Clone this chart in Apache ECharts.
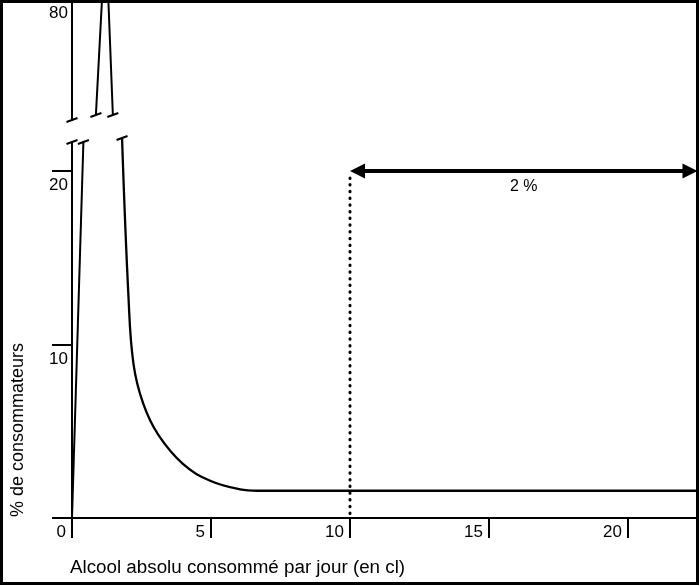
<!DOCTYPE html>
<html><head><meta charset="utf-8">
<script src="https://cdn.jsdelivr.net/npm/echarts@6/dist/echarts.min.js"></script>
<style>html,body{margin:0;padding:0;background:#fff}#c{width:700px;height:586px}</style>
</head><body><div id="c"></div>
<script>
// ---- data ----
const xTicks = [0, 5, 10, 15, 20];
const yTicksLow = [0, 10, 20];
const yLabelsLow = [10, 20];
const yTicksHigh = [80];
const xMax = 22.5;
const yLowMax = 21.67;
const yHighMin = 73.08, yHighMax = 80;
const riseLow = [[0, 0], [0.41, 21.67]];
const peakHigh = [[0.86, 73.37], [1.21, 84.0], [1.47, 73.37]];
const fallLow = [[1.80, 21.9], [2.03, 12.8], [2.21, 8.9], [2.56, 6.6], [3.10, 4.8], [4.00, 3.1],
  [4.97, 2.15], [6.05, 1.65], [6.67, 1.57], [22.5, 1.57]];
const threshold = [[10, 19.6], [10, 0]];
const arrowSpan = [[10, 22.5, 20]];
const arrowLabel = '2 %';
const breaksLow = [[0, 21.67], [0.41, 21.67], [1.80, 21.9]];
const breaksHigh = [[0, 73.08], [0.86, 73.37], [1.47, 73.37]];
const xTitle = 'Alcool absolu consommé par jour (en cl)';
const yTitle = '% de consommateurs';

const FONT = '"Liberation Sans", Arial, sans-serif';
const lineBlack = { color: '#000', width: 2 };

function breakMark(params, api) {
  const p = api.coord([api.value(0), api.value(1)]);
  return { type: 'line', shape: { x1: p[0] - 5.5, y1: p[1] + 2, x2: p[0] + 5.5, y2: p[1] - 2 },
    style: { stroke: '#000', lineWidth: 2 } };
}

const chart = echarts.init(document.getElementById('c'), null, { renderer: 'canvas' });
chart.setOption({
  backgroundColor: '#fff',
  animation: false,
  grid: [
    { left: 72, right: 2.5, top: 142, bottom: 68 },
    { left: 72, right: 2.5, top: 0, height: 120 }
  ],
  xAxis: [
    { type: 'value', gridIndex: 0, min: 0, max: xMax, splitLine: { show: false },
      axisLine: { lineStyle: lineBlack },
      axisTick: { customValues: xTicks, length: 20, lineStyle: lineBlack },
      axisLabel: { customValues: xTicks, align: 'right', padding: [0, 6, 0, 0], margin: 6,
        color: '#000', fontSize: 17, fontFamily: FONT } },
    { type: 'value', gridIndex: 1, min: 0, max: xMax, show: false }
  ],
  yAxis: [
    { type: 'value', gridIndex: 0, min: 0, max: yLowMax, splitLine: { show: false },
      axisLine: { show: true, lineStyle: lineBlack },
      axisTick: { show: true, customValues: yTicksLow, length: 20, lineStyle: lineBlack },
      axisLabel: { customValues: yLabelsLow, verticalAlign: 'top', padding: [6, 0, 0, 0], margin: 4,
        color: '#000', fontSize: 17, fontFamily: FONT } },
    { type: 'value', gridIndex: 1, min: yHighMin, max: yHighMax, splitLine: { show: false },
      axisLine: { show: true, lineStyle: lineBlack },
      axisTick: { show: true, customValues: yTicksHigh, length: 20, lineStyle: lineBlack },
      axisLabel: { customValues: yTicksHigh, verticalAlign: 'top', padding: [5, 0, 0, 0], margin: 4,
        color: '#000', fontSize: 17, fontFamily: FONT } }
  ],
  series: [
    { type: 'line', xAxisIndex: 0, yAxisIndex: 0, data: riseLow, showSymbol: false, clip: false,
      lineStyle: lineBlack },
    { type: 'line', xAxisIndex: 1, yAxisIndex: 1, data: peakHigh, showSymbol: false, clip: true,
      lineStyle: lineBlack },
    { type: 'line', xAxisIndex: 0, yAxisIndex: 0, data: fallLow, showSymbol: false, clip: false,
      smooth: 0.4, lineStyle: { color: '#000', width: 2.3 } },
    { type: 'line', xAxisIndex: 0, yAxisIndex: 0, data: threshold, showSymbol: false,
      lineStyle: { color: '#000', width: 3, type: [0.5, 6.2], cap: 'round' } },
    { type: 'custom', xAxisIndex: 0, yAxisIndex: 0, data: breaksLow, renderItem: breakMark },
    { type: 'custom', xAxisIndex: 1, yAxisIndex: 1, data: breaksHigh, renderItem: breakMark },
    { type: 'custom', xAxisIndex: 0, yAxisIndex: 0, data: arrowSpan,
      encode: { x: [0, 1], y: 2 },
      renderItem: function (params, api) {
        const a = api.coord([api.value(0), api.value(2)]);
        const b = api.coord([api.value(1), api.value(2)]);
        const hl = 15, hw = 7.5;
        return { type: 'group', children: [
          { type: 'line', shape: { x1: a[0] + hl - 2, y1: a[1], x2: b[0] - hl + 2, y2: b[1] },
            style: { stroke: '#000', lineWidth: 4 } },
          { type: 'polygon', shape: { points: [[a[0], a[1]], [a[0] + hl, a[1] - hw], [a[0] + hl, a[1] + hw]] },
            style: { fill: '#000' } },
          { type: 'polygon', shape: { points: [[b[0], b[1]], [b[0] - hl, b[1] - hw], [b[0] - hl, b[1] + hw]] },
            style: { fill: '#000' } },
          { type: 'text', x: (a[0] + b[0]) / 2, y: a[1] + 16,
            style: { text: arrowLabel, fill: '#000', font: '16px ' + FONT, align: 'center', verticalAlign: 'middle' } }
        ] };
      } }
  ],
  graphic: [
    { type: 'text', x: 70, y: 568,
      style: { text: xTitle, fill: '#000', font: '18.8px ' + FONT, verticalAlign: 'middle' } },
    { type: 'text', x: 18, y: 430, rotation: Math.PI / 2,
      style: { text: yTitle, fill: '#000', font: '18px ' + FONT, align: 'center', verticalAlign: 'middle' } },
    { type: 'rect', z: 100, shape: { x: 1.5, y: 1.5, width: 696, height: 582 },
      style: { fill: 'none', stroke: '#000', lineWidth: 3 } }
  ]
});
</script>
</body></html>
